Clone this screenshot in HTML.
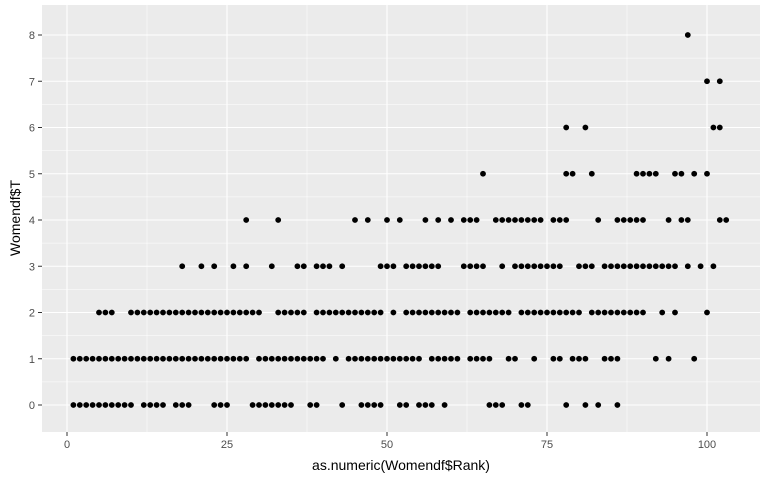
<!DOCTYPE html>
<html><head><meta charset="utf-8">
<style>
body{margin:0;background:#fff;}
svg{display:block;font-family:"Liberation Sans",sans-serif;}
</style></head>
<body>
<svg id="chart" width="768" height="480">
  <rect x="42" y="5" width="718" height="427" fill="#ebebeb"/>
  <g id="grid"></g>
  <g id="points"></g>
  <g id="axes"></g>
  <text x="401" y="470" text-anchor="middle" font-size="14" fill="#000">as.numeric(Womendf$Rank)</text>
  <text x="20" y="218" text-anchor="middle" font-size="14" fill="#000" transform="rotate(-90 20 218)">Womendf$T</text>
</svg>
<script>
const xTicks = [0, 25, 50, 75, 100];
const yTicks = [0, 1, 2, 3, 4, 5, 6, 7, 8];
const rank0 = [1,2,3,4,5,6,7,8,9,10,12,13,14,15,17,18,19,23,24,25,29,30,31,32,33,34,35,38,39,43,46,47,48,49,52,53,55,56,57,59,66,67,68,71,72,78,81,83,86];
const rank1 = [1,2,3,4,5,6,7,8,9,10,11,12,13,14,15,16,17,18,19,20,21,22,23,24,25,26,27,28,30,31,32,33,34,35,36,37,38,39,40,42,44,45,46,47,48,49,50,51,52,53,54,55,57,58,59,60,61,63,64,65,66,69,70,73,76,77,79,80,81,84,85,86,92,94,98];
const rank2 = [5,6,7,10,11,12,13,14,15,16,17,18,19,20,21,22,23,24,25,26,27,28,29,30,33,34,35,36,37,39,40,41,42,43,44,45,46,47,48,49,51,53,54,55,56,57,58,59,60,61,63,64,65,66,67,68,69,71,72,73,74,75,76,77,78,79,80,82,83,84,85,86,87,88,89,90,93,95,100];
const rank3 = [18,21,23,26,28,32,36,37,39,40,41,43,49,50,51,53,54,55,56,57,58,62,63,64,65,68,70,71,72,73,74,75,76,77,80,81,82,84,85,86,87,88,89,90,91,92,93,94,95,97,99,101];
const rank4 = [28,33,45,47,50,52,56,58,60,62,63,64,67,68,69,70,71,72,73,74,76,77,78,83,86,87,88,89,90,94,96,97,102,103];
const rank5 = [65,78,79,82,89,90,91,92,95,96,98,100];
const rank6 = [78,81,101,102];
const rank7 = [100,102];
const rank8 = [97];
const seriesT = [rank0,rank1,rank2,rank3,rank4,rank5,rank6,rank7,rank8];

const NS = "http://www.w3.org/2000/svg";
const px = v => 67 + v * 6.4;
const py = v => 405 - v * 46.25;
const grid = document.getElementById('grid');
const axes = document.getElementById('axes');
const pts = document.getElementById('points');
function mk(tag, attrs, parent){ const e=document.createElementNS(NS,tag); for(const k in attrs) e.setAttribute(k,attrs[k]); parent.appendChild(e); return e; }

for (let i=0;i<xTicks.length;i++){
  const m = xTicks[i] + 12.5;
  if (px(m) < 760) { const l=mk('line',{x1:px(m),x2:px(m),y1:5,y2:432,stroke:'#fff','stroke-width':0.5},grid);
    
     }
}
for (let i=0;i<yTicks.length-1;i++){
  const m = yTicks[i] + 0.5;
  const l=mk('line',{x1:42,x2:760,y1:py(m),y2:py(m),stroke:'#fff','stroke-width':0.5},grid);
  
  
}
xTicks.forEach(t=>{
  const l=mk('line',{x1:px(t),x2:px(t),y1:5,y2:432,stroke:'#fff','stroke-width':1.1},grid);
  
  
  const k=mk('line',{x1:px(t),x2:px(t),y1:432,y2:436,stroke:'#333','stroke-width':1},axes);
  
  
  const tx=mk('text',{x:px(t),y:448,'text-anchor':'middle','font-size':11,fill:'#4d4d4d'},axes);
  tx.textContent=t;
  
  
});
yTicks.forEach(t=>{
  const l=mk('line',{x1:42,x2:760,y1:py(t),y2:py(t),stroke:'#fff','stroke-width':1.1},grid);
  
  
  const k=mk('line',{x1:38,x2:42,y1:py(t),y2:py(t),stroke:'#333','stroke-width':1},axes);
  
  
  const tx=mk('text',{x:35,y:py(t)+4,'text-anchor':'end','font-size':11,fill:'#4d4d4d'},axes);
  tx.textContent=t;
  
  
});
seriesT.forEach((ranks,tv)=>{
  ranks.forEach(r=>{
    const c=mk('circle',{cx:px(r),cy:py(tv),r:2.9,fill:'#000'},pts);
    
    
  });
});
</script>
</body></html>
